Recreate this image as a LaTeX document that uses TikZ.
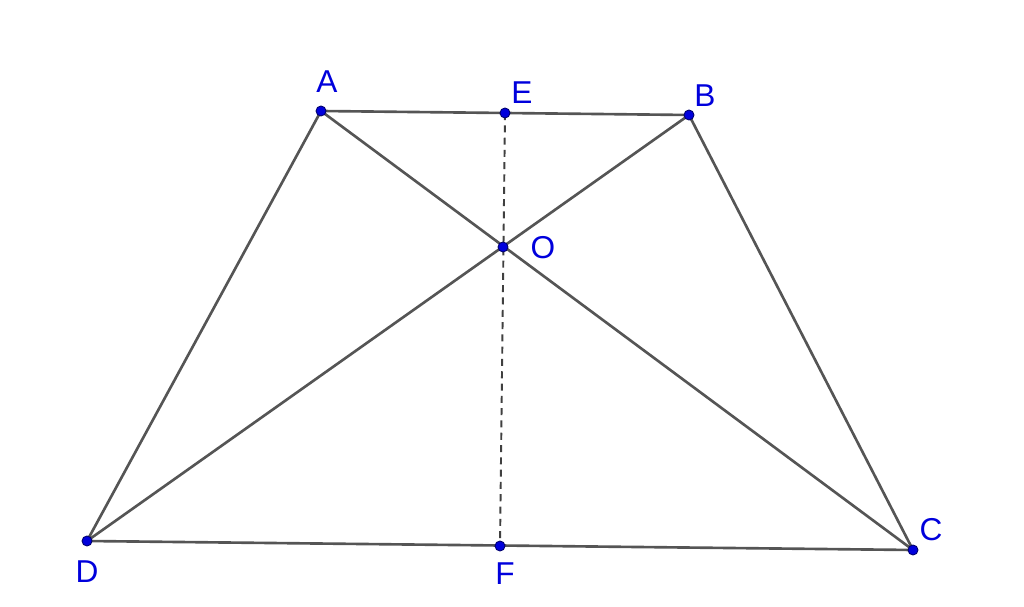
\documentclass[tikz,border=0pt]{standalone}
\usepackage{fontspec}
\setmainfont{Liberation Sans}
\definecolor{edge}{RGB}{85,85,85}
\definecolor{ptblue}{RGB}{0,0,220}
\definecolor{ptdark}{RGB}{0,0,110}
\begin{document}
\begin{tikzpicture}[x=0.02cm,y=-0.02cm,
  seg/.style={draw=edge,line width=1.5pt},
  dashseg/.style={draw=black!75,line width=1.1pt,dash pattern=on 4pt off 3pt},
  pt/.style={circle,fill=ptblue,draw=ptdark,line width=0.5pt,inner sep=0pt,minimum size=0.2cm},
  lbl/.style={text=ptblue,font=\fontsize{18}{20}\selectfont,inner sep=0pt}]
\useasboundingbox (0,0) rectangle (1024,607);
\coordinate (A) at (321,111);
\coordinate (E) at (505,113);
\coordinate (B) at (689,115);
\coordinate (O) at (503,247);
\coordinate (D) at (87,541);
\coordinate (F) at (500,546);
\coordinate (C) at (913,550);
\draw[dashseg] (E) -- (F);
\draw[seg] (A) -- (B) -- (C) -- (D) -- cycle;
\draw[seg] (A) -- (C);
\draw[seg] (B) -- (D);
\foreach \p in {A,E,B,O,D,F,C} \node[pt] (n\p) at (\p) {};
\node[lbl] (lA) at (327,82) {A};
\node[lbl] (lE) at (522,93) {E};
\node[lbl] (lB) at (705,96) {B};
\node[lbl] (lO) at (543,248) {O};
\node[lbl] (lD) at (87,572) {D};
\node[lbl] (lF) at (505,574) {F};
\node[lbl] (lC) at (931,530) {C};
\end{tikzpicture}
\end{document}
